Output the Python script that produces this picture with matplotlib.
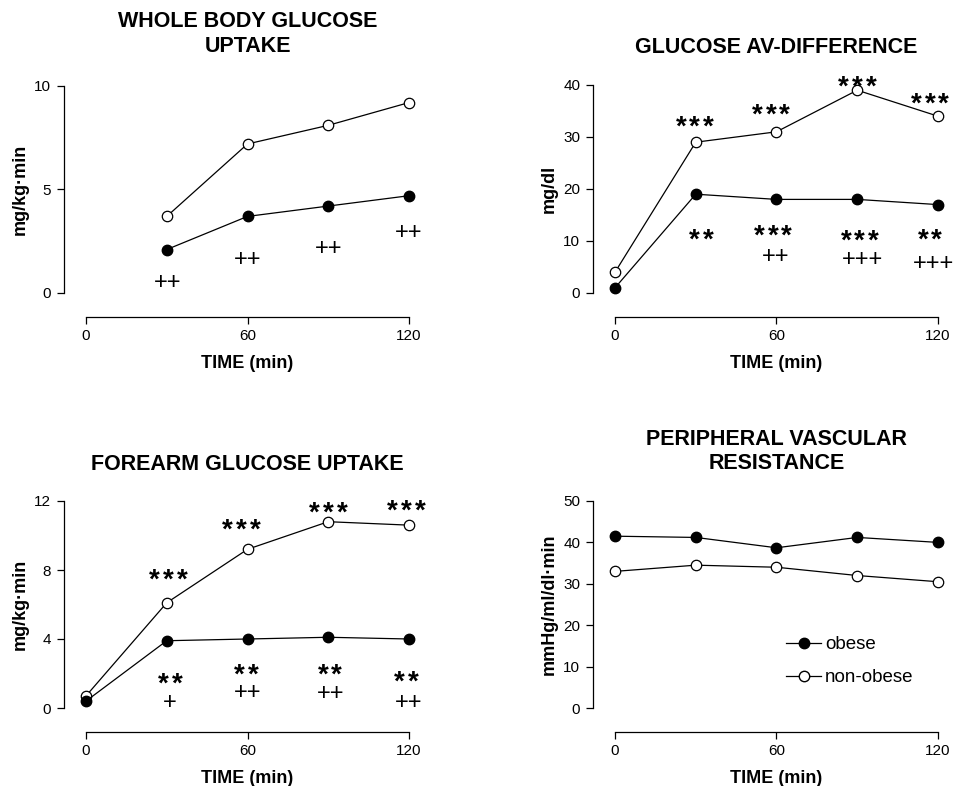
import matplotlib
matplotlib.use("Agg")
import matplotlib.pyplot as plt
from matplotlib.lines import Line2D

plt.rcParams['font.family'] = ['Liberation Sans', 'DejaVu Sans']

# time points (min)
t_wb = [30, 60, 90, 120]
t = [0, 30, 60, 90, 120]

# whole body glucose uptake (mg/kg.min)
wb_obese = [2.1, 3.7, 4.2, 4.7]
wb_lean = [3.7, 7.2, 8.1, 9.2]

# glucose AV-difference (mg/dl)
av_obese = [1, 19, 18, 18, 17]
av_lean = [4, 29, 31, 39, 34]

# forearm glucose uptake (mg/kg.min)
fa_obese = [0.4, 3.9, 4.0, 4.1, 4.0]
fa_lean = [0.7, 6.1, 9.2, 10.8, 10.6]

# peripheral vascular resistance (mmHg/ml/dl.min)
pvr_obese = [41.5, 41.2, 38.7, 41.2, 40.0]
pvr_lean = [33.0, 34.5, 34.0, 32.0, 30.5]

# significance marks: (x, y, text)
wb_marks = [(30.5, 0.55, "++"), (60, 1.7, "++"), (90, 2.2, "++"), (120, 3.0, "++")]
av_marks = [(29.5, 33.6, "***"), (58, 35.8, "***"), (90, 41.3, "***"), (117, 38.0, "***"),
            (32, 11.8, "**"), (58.7, 12.5, "***"), (90.8, 11.7, "***"), (117, 11.8, "**"),
            (59.5, 7.3, "++"), (92, 6.7, "+++"), (118.5, 6.0, "+++")]
fa_marks = [(30.6, 7.9, "***"), (57.7, 10.8, "***"), (90, 11.8, "***"), (119, 11.9, "***"),
            (31.3, 1.9, "**"), (59.6, 2.4, "**"), (90.6, 2.4, "**"), (119, 2.0, "**"),
            (31, 0.4, "+"), (60, 1.0, "++"), (90.7, 0.9, "++"), (120, 0.4, "++")]

W, H = 954, 786
fig = plt.figure(figsize=(W / 100, H / 100), dpi=100)


def panel(left, top, bottom, ymax, yticks, title, ylabel, xs, obese, lean, marks, title_y):
    ax = fig.add_axes([left / W, 1 - bottom / H, 323 / W, (bottom - top) / H])
    ax.plot(xs, lean, color='black', lw=0.9, marker='o', ms=7.5, mfc='white', mec='black', mew=0.9,
            clip_on=False, zorder=3)
    ax.plot(xs, obese, color='black', lw=0.9, marker='o', ms=7.5, mfc='black', mec='black',
            clip_on=False, zorder=3)
    ax.set_xlim(0, 120)
    ax.set_ylim(0, ymax)
    ax.set_xticks([0, 60, 120])
    ax.set_yticks(yticks)
    for s in ['top', 'right']:
        ax.spines[s].set_visible(False)
    ax.spines['left'].set_position(('outward', 16))
    ax.spines['bottom'].set_position(('outward', 17))
    for s in ['left', 'bottom']:
        ax.spines[s].set_linewidth(0.9)
    ax.tick_params(labelsize=11, width=0.9, length=5, pad=4)
    ax.set_xlabel("TIME (min)", fontsize=13, fontweight='bold', labelpad=8.5)
    ax.set_ylabel(ylabel, fontsize=13, fontweight='bold', labelpad=4)
    ax.text(0.5, title_y, title, transform=ax.transAxes, ha='center', va='center',
            fontsize=15.5, fontweight='bold', linespacing=1.22)
    for x, y, s in marks:
        n = len(s)
        if s[0] == '*':
            # one star per glyph, evenly spaced around x
            for i in range(n):
                dx = (i - (n - 1) / 2) * 9.8
                ax.annotate('*', (x, y), xytext=(dx, -11.6), textcoords='offset points',
                            ha='center', va='baseline', fontsize=20, fontweight='bold',
                            annotation_clip=False)
        else:
            ax.annotate(s, (x, y), xytext=(0, -5.6), textcoords='offset points',
                        ha='center', va='baseline', fontsize=17, annotation_clip=False)
    return ax


panel(86, 86, 293, 10, [0, 5, 10], "WHOLE BODY GLUCOSE\nUPTAKE", "mg/kg·min",
      t_wb, wb_obese, wb_lean, wb_marks, 1.25)
panel(615, 85, 293, 40, [0, 10, 20, 30, 40], "GLUCOSE AV-DIFFERENCE", "mg/dl",
      t, av_obese, av_lean, av_marks, 1.18)
panel(86, 501, 708, 12, [0, 4, 8, 12], "FOREARM GLUCOSE UPTAKE", "mg/kg·min",
      t, fa_obese, fa_lean, fa_marks, 1.174)
ax4 = panel(615, 501, 708, 50, [0, 10, 20, 30, 40, 50], "PERIPHERAL VASCULAR\nRESISTANCE",
            "mmHg/ml/dl·min", t, pvr_obese, pvr_lean, [], 1.24)

handles = [Line2D([], [], color='black', lw=0.9, marker='o', ms=7.5, mfc='black', mec='black'),
           Line2D([], [], color='black', lw=0.9, marker='o', ms=7.5, mfc='white', mec='black')]
ax4.legend(handles, ["obese", "non-obese"], loc='lower left', bbox_to_anchor=(0.5, 0.06),
           frameon=False, fontsize=13.5, handlelength=1.9, handletextpad=0.2, labelspacing=0.85,
           borderpad=0)

fig.savefig("out.png", dpi=100)
